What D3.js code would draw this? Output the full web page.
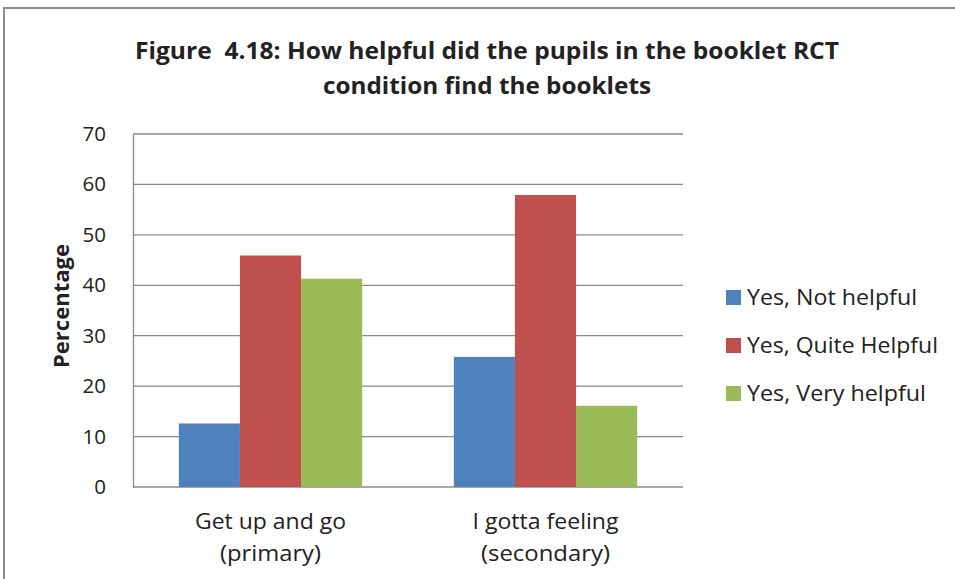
<!DOCTYPE html>
<html>
<head>
<meta charset="utf-8">
<script src="https://cdn.jsdelivr.net/npm/d3@7"></script>
<style>
  body { margin: 0; background: #fff; }
  text { font-family: "Open Sans", "Liberation Sans", sans-serif; fill: #222; }
</style>
</head>
<body>
<div id="chart"></div>
<script>
// data
const categories = ["Get up and go (primary)", "I gotta feeling (secondary)"];
const categoryLines = [["Get up and go", "(primary)"], ["I gotta feeling", "(secondary)"]];
const seriesNames = ["Yes, Not helpful", "Yes, Quite Helpful", "Yes, Very helpful"];
const notHelpful = [12.6, 25.8];
const quiteHelpful = [45.9, 57.9];
const veryHelpful = [41.3, 16.1];
const yTicks = [0, 10, 20, 30, 40, 50, 60, 70];
const colors = ["#4f81bd", "#c0504d", "#9bbb59"];

const seriesValues = [notHelpful, quiteHelpful, veryHelpful];

const W = 955, H = 579;
const margin = {top: 134, right: 272, bottom: 92, left: 133};
const width = W - margin.left - margin.right,
      height = H - margin.top - margin.bottom;

// Calibri is narrower than what we have, so squeeze text to the widths in the picture
function fitText(sel, w) {
  sel.attr("textLength", w).attr("lengthAdjust", "spacingAndGlyphs");
}

const svg = d3.select("#chart").append("svg")
  .attr("width", W)
  .attr("height", H);

// outer chart frame
svg.append("rect")
  .attr("x", 4).attr("y", 8)
  .attr("width", W + 10).attr("height", H + 10)
  .attr("fill", "none")
  .attr("stroke", "#8c8c8c")
  .attr("stroke-width", 2);

// title
const titleLines = ["Figure  4.18: How helpful did the pupils in the booklet RCT", "condition find the booklets"];
const titleWidths = [704, 328];
titleLines.forEach((t, i) => {
  svg.append("text")
    .attr("x", 487)
    .attr("y", 59 + i * 35)
    .attr("text-anchor", "middle")
    .attr("font-size", 23)
    .attr("font-weight", "bold")
    .style("white-space", "pre")
    .call(fitText, titleWidths[i])
    .text(t);
});

const g = svg.append("g")
  .attr("transform", "translate(" + margin.left + "," + margin.top + ")");

const x0 = d3.scaleBand()
  .domain(categories)
  .range([0, width])
  .paddingInner(0)
  .paddingOuter(0);

// excel style: gap width 150% of a bar
const barW = x0.bandwidth() / (seriesNames.length + 1.5);
const x1 = d3.scaleBand()
  .domain(seriesNames)
  .range([0, barW * seriesNames.length]);

const y = d3.scaleLinear()
  .domain([0, 70])
  .range([height, 0]);

// gridlines
g.selectAll(".grid")
  .data(yTicks)
  .enter().append("line")
  .attr("class", "grid")
  .attr("x1", 0).attr("x2", width)
  .attr("y1", d => y(d)).attr("y2", d => y(d))
  .attr("stroke", "#8a8a8a")
  .attr("stroke-width", 1.3);

// y axis
const yAxis = g.append("g")
  .call(d3.axisLeft(y).tickValues(yTicks).tickSize(0).tickPadding(27));
yAxis.select(".domain").attr("stroke", "#8a8a8a").attr("stroke-width", 1.3);
yAxis.selectAll("text")
  .attr("font-size", 20.5)
  .attr("fill", "#222")
  .style("font-family", "'Open Sans', sans-serif");

// bars
categories.forEach((c, ci) => {
  const offset = x0(c) + (x0.bandwidth() - barW * seriesNames.length) / 2;
  g.selectAll(".bar" + ci)
    .data(seriesNames)
    .enter().append("rect")
    .attr("x", s => offset + x1(s))
    .attr("width", x1.bandwidth())
    .attr("y", (s, si) => y(seriesValues[si][ci]))
    .attr("height", (s, si) => height - y(seriesValues[si][ci]))
    .attr("fill", (s, si) => colors[si]);
});

// x axis category labels
const catWidths = [[151, 101], [146, 129]];
categories.forEach((c, ci) => {
  categoryLines[ci].forEach((line, li) => {
    g.append("text")
      .attr("x", x0(c) + x0.bandwidth() / 2)
      .attr("y", height + 42 + li * 32)
      .attr("text-anchor", "middle")
      .attr("font-size", 21)
      .call(fitText, catWidths[ci][li])
      .text(line);
  });
});

// y axis title
svg.append("text")
  .attr("transform", "rotate(-90)")
  .attr("x", -306)
  .attr("y", 69)
  .attr("text-anchor", "middle")
  .attr("font-size", 21)
  .attr("font-weight", "bold")
  .call(fitText, 124)
  .text("Percentage");

// legend
const legendWidths = [170, 191, 179];
const legend = svg.append("g").attr("transform", "translate(726,297)");
seriesNames.forEach((s, i) => {
  const row = legend.append("g").attr("transform", "translate(0," + (i * 48) + ")");
  row.append("rect")
    .attr("x", 0).attr("y", -7)
    .attr("width", 15).attr("height", 15)
    .attr("fill", colors[i]);
  row.append("text")
    .attr("x", 21)
    .attr("y", 8)
    .attr("font-size", 22)
    .call(fitText, legendWidths[i])
    .text(s);
});
</script>
</body>
</html>
